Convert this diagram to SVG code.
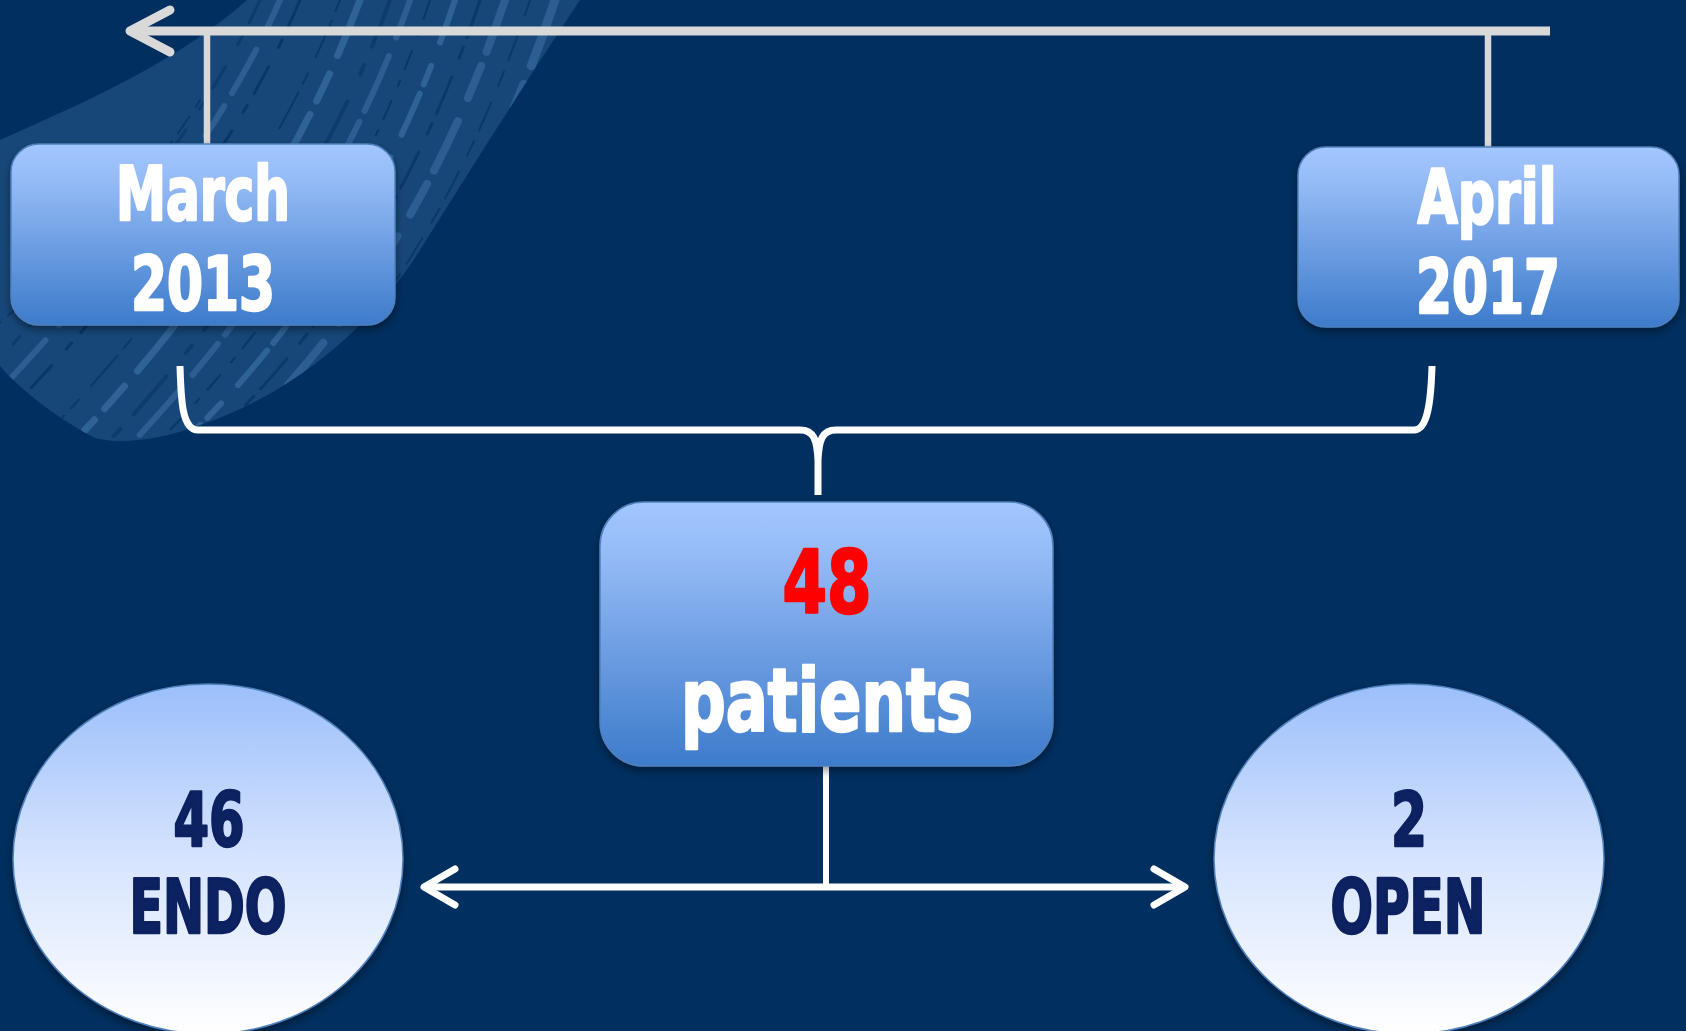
<svg xmlns="http://www.w3.org/2000/svg" width="1686" height="1031" viewBox="0 0 1686 1031">
<defs>
<style>
.lbl{font-family:"DejaVu Sans Condensed","DejaVu Sans",sans-serif;font-weight:bold;text-anchor:middle;stroke-width:2.5;stroke-linejoin:round}
.date{font-size:74px;fill:#ffffff;stroke:#ffffff}
.big{font-size:88px}
.red{fill:#ff0000;stroke:#ff0000}
.wht{fill:#ffffff;stroke:#ffffff}
.ell{font-size:74px;fill:#0c2060;stroke:#0c2060}
.box{fill:url(#boxGrad);stroke:#4f81bd;stroke-width:1.5}
.oval{fill:url(#ellGrad);stroke:#4f81bd;stroke-width:1.5}
.gray{fill:none;stroke:#d9d9d9;stroke-width:9}
.grayv{fill:none;stroke:#d9d9d9;stroke-width:6.5}
.white{fill:none;stroke:#ffffff;stroke-width:7;stroke-linejoin:round}
.whitev{fill:none;stroke:#ffffff;stroke-width:6}
.streakD{fill:none;stroke:#012f5f;stroke-linecap:round}
.streakL{fill:none;stroke:#4d82b8;stroke-linecap:round}
</style>
<linearGradient id="boxGrad" x1="0" y1="0" x2="0" y2="1">
<stop offset="0" stop-color="#a2c6ff"/>
<stop offset="0.2" stop-color="#95bbf6"/>
<stop offset="1" stop-color="#3d7bcb"/>
</linearGradient>
<linearGradient id="ellGrad" x1="0" y1="0" x2="0" y2="1">
<stop offset="0" stop-color="#9bbffb"/>
<stop offset="0.5" stop-color="#d6e4fe"/>
<stop offset="1" stop-color="#ffffff"/>
</linearGradient>
<filter id="shadow" x="-10%" y="-10%" width="120%" height="130%">
<feDropShadow dx="0" dy="4" stdDeviation="4" flood-color="#000000" flood-opacity="0.4"/>
</filter>
<clipPath id="brushClip">
<path d="M247,0 L580,0 C540,60 470,170 420,250 C370,330 290,395 200,425 C160,440 120,445 95,438 C60,420 20,390 0,366 L0,140 C90,100 180,60 247,0 Z"/>
</clipPath>
<marker id="chevGray" viewBox="-45 -25 50 50" markerWidth="50" markerHeight="50" refX="0" refY="0" markerUnits="userSpaceOnUse" orient="auto-start-reverse" overflow="visible">
<path d="M-40,-21 L0,0 L-40,21" fill="none" stroke="#d9d9d9" stroke-width="9" stroke-linecap="round" stroke-linejoin="round"/>
</marker>
<marker id="chevWhite" viewBox="-45 -25 50 50" markerWidth="50" markerHeight="50" refX="0" refY="0" markerUnits="userSpaceOnUse" orient="auto-start-reverse" overflow="visible">
<path d="M-31,-18 L0,0 L-31,18" fill="none" stroke="#ffffff" stroke-width="7" stroke-linecap="round" stroke-linejoin="round"/>
</marker>
</defs>

<rect x="0" y="0" width="1686" height="1031" fill="#012f5f"/>

<g id="brush">
<path d="M247,0 L580,0 C540,60 470,170 420,250 C370,330 290,395 200,425 C160,440 120,445 95,438 C60,420 20,390 0,366 L0,140 C90,100 180,60 247,0 Z" fill="#2d5f93" opacity="0.5"/>
<g clip-path="url(#brushClip)">
<path class="streakD" stroke-width="3" stroke-dasharray="30 14 8 22" opacity="0.7" d="M300,0 C250,120 160,250 20,400"/>
<path class="streakD" stroke-width="2" stroke-dasharray="12 10 40 18" opacity="0.6" d="M340,0 C290,130 200,270 60,420"/>
<path class="streakD" stroke-width="4" stroke-dasharray="50 20 10 30" opacity="0.5" d="M390,0 C340,140 250,290 110,440"/>
<path class="streakD" stroke-width="2" stroke-dasharray="20 12 6 16" opacity="0.7" d="M430,0 C380,150 300,300 160,440"/>
<path class="streakD" stroke-width="3" stroke-dasharray="40 10 12 20" opacity="0.6" d="M480,0 C430,150 350,310 210,440"/>
<path class="streakD" stroke-width="2" stroke-dasharray="16 18 30 12" opacity="0.6" d="M530,0 C480,150 400,310 260,440"/>
<path class="streakD" stroke-width="3" stroke-dasharray="25 15 10 25" opacity="0.5" d="M260,0 C210,110 120,230 -20,380"/>
<path class="streakL" stroke-width="7" stroke-dasharray="60 20 30 15" opacity="0.45" d="M360,0 C310,135 225,280 85,430"/>
<path class="streakL" stroke-width="6" stroke-dasharray="45 25 20 10" opacity="0.45" d="M455,0 C405,150 325,305 185,440"/>
<path class="streakL" stroke-width="9" stroke-dasharray="70 20 25 30" opacity="0.4" d="M555,0 C505,150 425,310 285,440"/>
<path class="streakL" stroke-width="6" stroke-dasharray="35 20 50 15" opacity="0.4" d="M280,0 C230,115 140,240 0,390"/>
<path class="streakL" stroke-width="8" stroke-dasharray="55 15 35 25" opacity="0.4" d="M505,0 C455,150 375,305 235,440"/>
<path class="streakL" stroke-width="6" stroke-dasharray="40 20 60 12" opacity="0.4" d="M410,0 C360,145 275,290 135,440"/>
<path class="streakD" stroke-width="2" stroke-dasharray="8 12 20 10" opacity="0.6" d="M200,100 C150,180 80,260 -10,330"/>
</g>
</g>

<g id="connectors">
<path class="gray" d="M1550,31 L130,31" marker-end="url(#chevGray)"/>
<path class="grayv" d="M207,31 L207,145"/>
<path class="grayv" d="M1488,31 L1488,147"/>
<path class="white" d="M180,366 C181,400 182,430 198,430 L800,430 C814,430 817,440 818,460 L818,495 M818,460 C819,440 822,430 836,430 L1414,430 C1428,430 1431,400 1432,366"/>
<path class="whitev" d="M826,766 L826,887"/>
<path class="white" d="M424,887 L1185,887" marker-start="url(#chevWhite)" marker-end="url(#chevWhite)"/>
</g>

<g id="node-march" filter="url(#shadow)">
<rect class="box" x="11" y="144" width="384" height="181" rx="28" ry="28"/>
<text class="lbl date" x="203" y="220" textLength="174" lengthAdjust="spacingAndGlyphs">March</text>
<text class="lbl date" x="203" y="310" textLength="144" lengthAdjust="spacingAndGlyphs">2013</text>
</g>

<g id="node-april" filter="url(#shadow)">
<rect class="box" x="1298" y="147" width="381" height="180" rx="28" ry="28"/>
<text class="lbl date" x="1487" y="223" textLength="139" lengthAdjust="spacingAndGlyphs">April</text>
<text class="lbl date" x="1488" y="313" textLength="144" lengthAdjust="spacingAndGlyphs">2017</text>
</g>

<g id="node-patients" filter="url(#shadow)">
<rect class="box" x="600" y="502" width="453" height="264" rx="44" ry="44"/>
<text class="lbl big red" x="827" y="613" textLength="89" lengthAdjust="spacingAndGlyphs">48</text>
<text class="lbl big wht" x="827" y="731" textLength="292" lengthAdjust="spacingAndGlyphs">patients</text>
</g>

<g id="node-endo" filter="url(#shadow)">
<ellipse class="oval" cx="208" cy="859" rx="195" ry="175"/>
<text class="lbl ell" x="209" y="846" textLength="71" lengthAdjust="spacingAndGlyphs">46</text>
<text class="lbl ell" x="208" y="933" textLength="157" lengthAdjust="spacingAndGlyphs">ENDO</text>
</g>

<g id="node-open" filter="url(#shadow)">
<ellipse class="oval" cx="1409" cy="859" rx="195" ry="175"/>
<text class="lbl ell" x="1409" y="846" textLength="36" lengthAdjust="spacingAndGlyphs">2</text>
<text class="lbl ell" x="1408" y="933" textLength="155" lengthAdjust="spacingAndGlyphs">OPEN</text>
</g>
</svg>
